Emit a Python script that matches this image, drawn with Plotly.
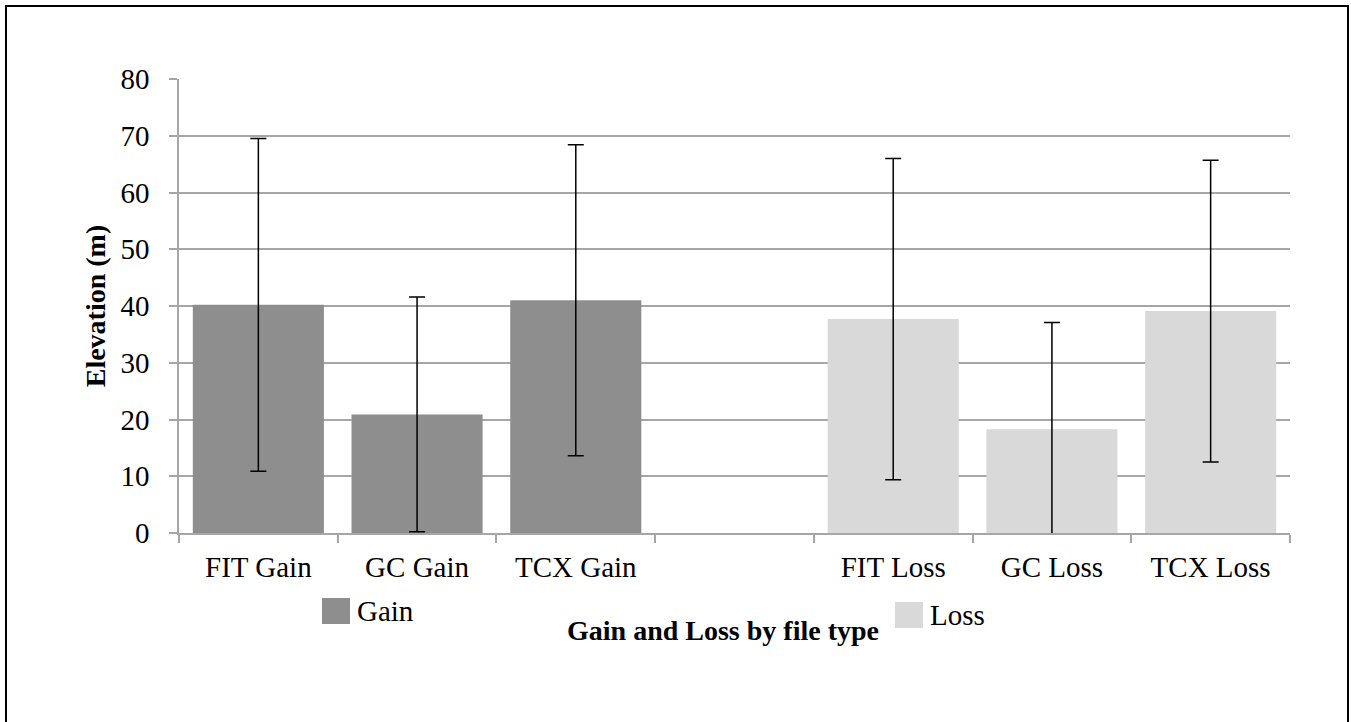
import plotly.graph_objects as go

# ---- data ----
categories = ["FIT Gain", "GC Gain", "TCX Gain", " ", "FIT Loss", "GC Loss", "TCX Loss"]
gain_labels = ["FIT Gain", "GC Gain", "TCX Gain"]
gain_values = [40.2, 20.9, 41.0]
gain_sd = [29.3, 20.7, 27.4]
loss_labels = ["FIT Loss", "GC Loss", "TCX Loss"]
loss_values = [37.7, 18.3, 39.1]
loss_sd = [28.3, 18.8, 26.6]
y_ticks = [0, 10, 20, 30, 40, 50, 60, 70, 80]

GAIN_COLOR = "#8e8e8e"
LOSS_COLOR = "#d9d9d9"
GRID = "#a6a6a6"
FONT = "Liberation Serif"

fig = go.Figure()
fig.add_trace(go.Bar(
    x=gain_labels, y=gain_values, name="Gain",
    marker=dict(color=GAIN_COLOR, line=dict(width=0)),
    error_y=dict(type="data", array=gain_sd, color="black", thickness=1.5, width=8),
    showlegend=False,
))
fig.add_trace(go.Bar(
    x=loss_labels, y=loss_values, name="Loss",
    marker=dict(color=LOSS_COLOR, line=dict(width=0)),
    error_y=dict(type="data", array=loss_sd, color="black", thickness=1.5, width=8),
    showlegend=False,
))

W, H = 1351, 722
L, T = 179, 79
pw, ph = 1111, 454
R, B = W - L - pw, H - T - ph

# page pixel -> paper coordinate
def px(x):
    return (x - L) / pw

def py(y):
    return (T + ph - y) / ph

fig.update_layout(
    width=W, height=H,
    margin=dict(l=L, r=R, t=T, b=B, pad=0, autoexpand=False),
    paper_bgcolor="white", plot_bgcolor="white",
    barmode="overlay", bargap=0.174,
    showlegend=False,
    font=dict(family=FONT, size=28, color="black"),
)
fig.update_xaxes(
    type="category", categoryorder="array", categoryarray=categories,
    tickmode="array", tickvals=categories, ticktext=categories,
    showline=True, linecolor=GRID, linewidth=1.5,
    ticks="outside", tickson="boundaries", ticklen=8, tickcolor=GRID, tickwidth=1.5,
    showgrid=False, zeroline=False,
    tickfont=dict(family=FONT, size=29, color="black"),
    ticklabelstandoff=7,
    automargin=False,
)
fig.update_yaxes(
    range=[0, 80], tickvals=y_ticks,
    showline=True, linecolor=GRID, linewidth=1.5,
    ticks="outside", ticklen=8, tickcolor=GRID, tickwidth=1.5,
    showgrid=True, gridcolor=GRID, gridwidth=1.5, zeroline=False,
    tickfont=dict(family=FONT, size=29, color="black"),
    ticklabelstandoff=14,
    title=dict(text="<b>Elevation (m)</b>", font=dict(family=FONT, size=28, color="black"), standoff=7),
    automargin=False,
)

shapes = [
    # outer frame
    dict(type="rect", xref="paper", yref="paper",
         x0=px(6), x1=px(1348), y0=py(6), y1=py(740),
         line=dict(color="black", width=2), fillcolor="rgba(0,0,0,0)", layer="above"),
    # legend swatches
    dict(type="rect", xref="paper", yref="paper",
         x0=px(322), x1=px(350), y0=py(598), y1=py(624),
         line=dict(width=0), fillcolor=GAIN_COLOR),
    dict(type="rect", xref="paper", yref="paper",
         x0=px(895), x1=px(923), y0=py(602), y1=py(628),
         line=dict(width=0), fillcolor=LOSS_COLOR),
]
annotations = [
    dict(text="Gain", xref="paper", yref="paper", x=px(355), y=py(611),
         xanchor="left", yanchor="middle", showarrow=False,
         font=dict(family=FONT, size=29, color="black")),
    dict(text="Loss", xref="paper", yref="paper", x=px(928), y=py(615),
         xanchor="left", yanchor="middle", showarrow=False,
         font=dict(family=FONT, size=29, color="black")),
    dict(text="<b>Gain and Loss by file type</b>", xref="paper", yref="paper",
         x=px(723), y=py(630), xanchor="center", yanchor="middle", showarrow=False,
         font=dict(family=FONT, size=28, color="black")),
]
fig.update_layout(shapes=shapes, annotations=annotations)

fig.write_html(
    "out.html",
    config={"displayModeBar": False},
    post_script="document.body.style.margin='0';document.body.style.overflow='hidden';",
)
